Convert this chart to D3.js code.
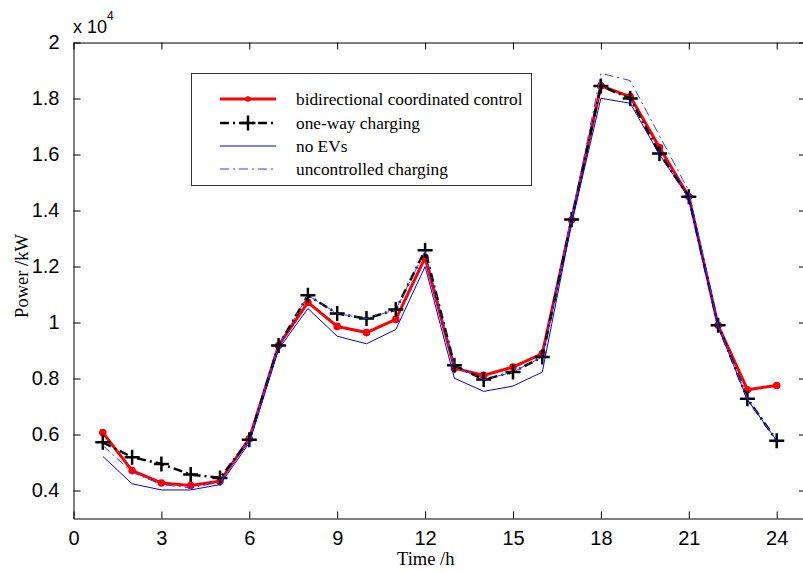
<!DOCTYPE html>
<html>
<head>
<meta charset="utf-8">
<script src="https://cdn.jsdelivr.net/npm/d3@7"></script>
<style>
  html, body { margin: 0; padding: 0; background: #fff; }
  svg { display: block; }
</style>
</head>
<body>
<svg id="chart" width="803" height="573"></svg>
<script>
// Hourly load profile (kW) under four EV charging strategies
const hours = d3.range(1, 25);
const bidirectional = [6070, 4710, 4270, 4180, 4330, 5850, 9180, 10720, 9860, 9640, 10110, 12320,
                       8370, 8110, 8410, 8890, 13660, 18450, 18070, 16250, 14500, 9900, 7600, 7750];
const oneWay        = [5720, 5190, 4950, 4570, 4450, 5810, 9180, 10970, 10320, 10140, 10460, 12580,
                       8470, 7960, 8230, 8770, 13680, 18450, 18000, 16040, 14490, 9900, 7280, 5780];
const noEVs         = [5220, 4240, 4020, 4020, 4210, 5700, 9050, 10500, 9510, 9240, 9750, 12000,
                       8010, 7540, 7730, 8230, 13550, 18010, 17830, 16000, 14450, 9850, 7250, 5780];
const uncontrolled  = [5610, 4650, 4210, 4090, 4300, 5780, 9150, 10970, 10320, 10140, 10460, 12550,
                       8450, 7960, 8230, 8770, 13700, 18900, 18640, 16670, 14700, 9900, 7280, 5780];
const seriesNames = ["bidirectional coordinated control", "one-way charging", "no EVs", "uncontrolled charging"];
const xTicks = [0, 3, 6, 9, 12, 15, 18, 21, 24];
const yTicks = [4000, 6000, 8000, 10000, 12000, 14000, 16000, 18000, 20000];

(function () {
  const svg = d3.select("#chart");
  const pLeft = 73.5, pRight = 806, pTop = 42.5, pBottom = 518.5;

  const x = d3.scaleLinear().domain([0, 25]).range([pLeft, pRight]);
  const y = d3.scaleLinear().domain([3000, 20000]).range([pBottom, pTop]);

  const sansFont = "Liberation Sans, Arial, Helvetica, sans-serif";
  const serifFont = "Liberation Serif, Times New Roman, serif";

  // Axes: box with inward ticks on all four sides
  const tickLen = 7;
  const fmtY = v => String(+(v / 10000).toFixed(1));

  svg.append("g")
    .attr("transform", `translate(0,${pBottom})`)
    .call(d3.axisBottom(x).tickValues(xTicks).tickSizeInner(-tickLen).tickSizeOuter(0).tickPadding(12).tickFormat(d3.format("d")))
    .call(g => g.selectAll("text").attr("font-family", sansFont).attr("font-size", 20).attr("fill", "#000"));

  svg.append("g")
    .attr("transform", `translate(0,${pTop})`)
    .call(d3.axisTop(x).tickValues(xTicks).tickSizeInner(-tickLen).tickSizeOuter(0).tickFormat(""));

  svg.append("g")
    .attr("transform", `translate(${pLeft},0)`)
    .call(d3.axisLeft(y).tickValues(yTicks).tickSizeInner(-tickLen).tickSizeOuter(0).tickPadding(14).tickFormat(fmtY))
    .call(g => g.selectAll("text").attr("font-family", sansFont).attr("font-size", 20).attr("fill", "#000"));

  svg.append("g")
    .attr("transform", `translate(${pRight},0)`)
    .call(d3.axisRight(y).tickValues(yTicks).tickSizeInner(-tickLen).tickSizeOuter(0).tickFormat(""));

  svg.selectAll(".domain").attr("stroke", "#000");
  svg.selectAll(".tick line").attr("stroke", "#000");

  // Exponent label
  const expo = svg.append("text")
    .attr("x", pLeft - 0.5).attr("y", 33)
    .attr("font-family", sansFont).attr("font-size", 18).attr("fill", "#000");
  expo.append("tspan").text("x 10");
  expo.append("tspan").attr("dy", -13).attr("font-size", 12).text("4");

  // Axis titles
  svg.append("text")
    .attr("x", (pLeft + 778) / 2).attr("y", 565)
    .attr("text-anchor", "middle")
    .attr("font-family", serifFont).attr("font-size", 18.5).attr("fill", "#000")
    .text("Time /h");

  svg.append("text")
    .attr("transform", `translate(27.5,276) rotate(-90)`)
    .attr("text-anchor", "middle")
    .attr("font-family", serifFont).attr("font-size", 18.5).attr("fill", "#000")
    .text("Power /kW");

  // Series styles
  const styles = [
    { data: bidirectional, color: "#ff0000", width: 3, dash: null, marker: "dot" },
    { data: oneWay, color: "#000000", width: 2.5, dash: "9,4,2,4", marker: "plus" },
    { data: noEVs, color: "#0000ff", width: 1, dash: null, marker: null },
    { data: uncontrolled, color: "#3b3bff", width: 1, dash: "9,4,2,4", marker: null }
  ];

  const line = d3.line().x((d, i) => x(hours[i])).y(d => y(d));
  const plot = svg.append("g");

  function drawMarker(g, type, cx, cy, color, small) {
    if (type === "dot") {
      g.append("circle").attr("cx", cx).attr("cy", cy).attr("r", small ? 2.8 : 3.8).attr("fill", color);
    } else if (type === "plus") {
      const s = 7.5;
      g.append("path")
        .attr("d", `M${cx - s},${cy}H${cx + s}M${cx},${cy - s}V${cy + s}`)
        .attr("stroke", color).attr("stroke-width", 2.5).attr("fill", "none");
    }
  }

  styles.forEach(s => {
    plot.append("path")
      .datum(s.data)
      .attr("d", line)
      .attr("fill", "none")
      .attr("stroke", s.color)
      .attr("stroke-width", s.width)
      .attr("stroke-linejoin", "round")
      .attr("stroke-dasharray", s.dash);
    if (s.marker) {
      s.data.forEach((v, i) => drawMarker(plot, s.marker, x(hours[i]), y(v), s.color, false));
    }
  });

  // Legend
  const lg = svg.append("g");
  lg.append("rect")
    .attr("x", 191.5).attr("y", 73.5).attr("width", 340).attr("height", 112)
    .attr("fill", "#fff").attr("stroke", "#333").attr("stroke-width", 1);

  const legendRows = [99, 123, 146, 169];
  styles.forEach((s, i) => {
    const ly = legendRows[i];
    lg.append("line")
      .attr("x1", 220).attr("x2", 276).attr("y1", ly).attr("y2", ly)
      .attr("stroke", s.color).attr("stroke-width", s.width)
      .attr("stroke-dasharray", s.dash);
    if (s.marker) drawMarker(lg, s.marker, 248, ly, s.color, true);
    lg.append("text")
      .attr("x", 296).attr("y", ly + 5.5)
      .attr("font-family", serifFont).attr("font-size", 17.3).attr("fill", "#000")
      .text(seriesNames[i]);
  });
})();
</script>
</body>
</html>
